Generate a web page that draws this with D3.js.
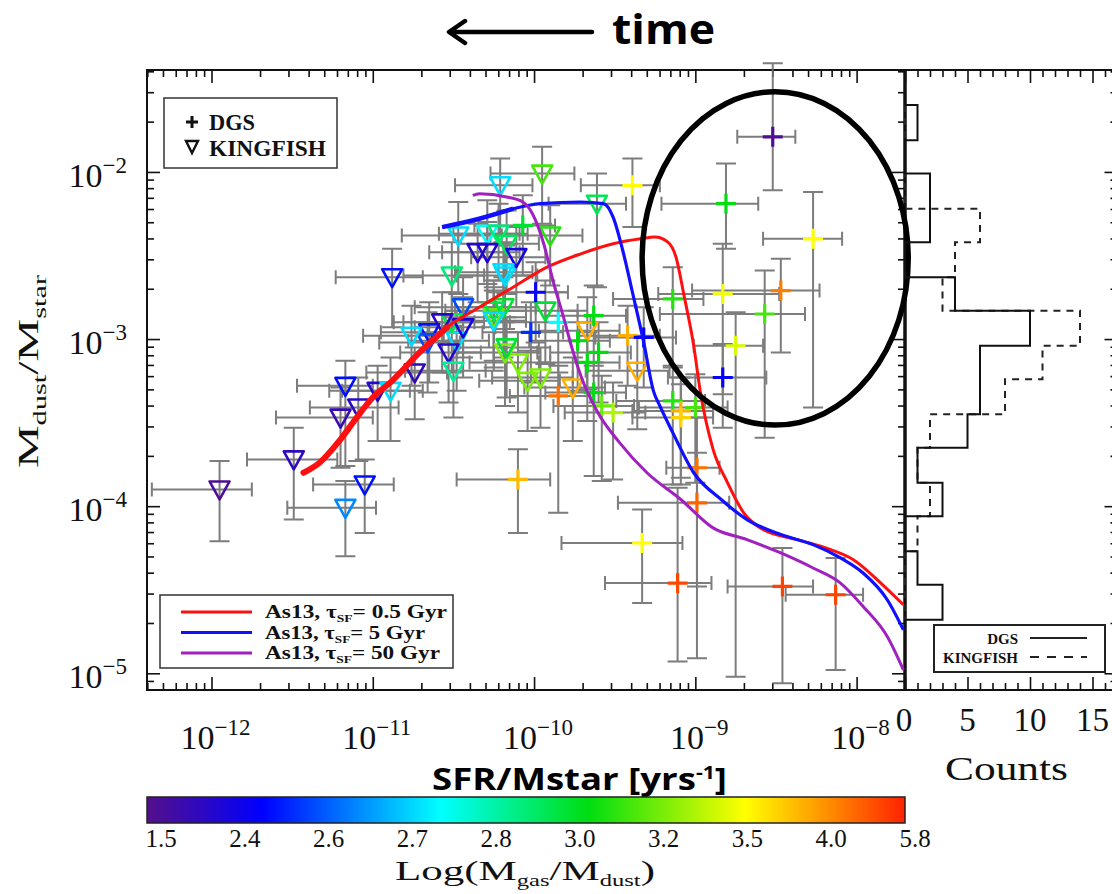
<!DOCTYPE html>
<html>
<head>
<meta charset="utf-8">
<script src="https://cdn.jsdelivr.net/npm/d3@7/dist/d3.min.js"></script>
<style>
body{margin:0;background:#fff}
svg{display:block}
</style>
</head>
<body>
<div id="chart"></div>
<script>
// ---- data (log10 values) ----
// KINGFISH galaxies (triangles)
const kfLogSsfr=[-11.95,-11.49,-11.17,-11.05,-11.17,-11.20,-11.09,-10.97,-10.89,-10.74,-10.88,-10.51,-10.47,-10.29,-10.22,-10.35,-10.29,-10.18,-10.21,-9.95,-9.61,-10.17,-10.11,-10.19,-9.90,-9.93,-9.67,-10.25,-10.18,-10.10,-10.04,-9.96,-9.36,-9.76,-10.65,-10.48,-10.53,-10.50,-10.44,-10.25,-10.19,-10.51,-10.57,-10.44,-10.25,-10.66,-10.17,-10.76];
const kfLogDust=[-3.90,-3.72,-4.01,-3.87,-3.28,-3.47,-3.41,-3.31,-3.31,-3.20,-2.63,-2.62,-2.38,-2.37,-2.37,-2.48,-2.48,-2.62,-2.08,-2.01,-2.19,-2.43,-2.51,-2.60,-2.38,-2.83,-2.95,-2.87,-3.08,-3.14,-3.25,-3.23,-3.19,-3.29,-2.96,-3.01,-3.08,-3.19,-2.81,-2.83,-2.81,-2.90,-2.90,-2.93,-2.89,-3.02,-3.05,-2.98];
const kfXerrLo=[0.42,0.29,0.36,0.32,0.30,0.40,0.30,0.30,0.30,0.30,0.35,0.30,0.35,0.30,0.28,0.30,0.28,0.30,0.28,0.32,0.30,0.30,0.28,0.30,0.30,0.30,0.30,0.30,0.30,0.30,0.30,0.30,0.32,0.30,0.30,0.30,0.30,0.30,0.30,0.30,0.30,0.30,0.30,0.30,0.30,0.30,0.30,0.30];
const kfXerrHi=[0.20,0.27,0.19,0.18,0.17,0.20,0.25,0.20,0.20,0.20,0.19,0.20,0.20,0.20,0.18,0.18,0.20,0.20,0.20,0.20,0.18,0.20,0.18,0.18,0.20,0.20,0.20,0.20,0.20,0.20,0.20,0.20,0.20,0.20,0.20,0.20,0.20,0.20,0.20,0.20,0.20,0.20,0.20,0.20,0.20,0.20,0.20,0.20];
const kfYerrLo=[0.31,0.36,0.29,0.29,0.48,0.30,0.32,0.30,0.30,0.28,0.30,0.30,0.35,0.30,0.28,0.30,0.30,0.32,0.30,0.30,0.50,0.30,0.30,0.30,0.30,0.32,0.35,0.30,0.32,0.30,0.30,0.30,0.35,0.32,0.30,0.30,0.30,0.28,0.30,0.30,0.30,0.30,0.30,0.30,0.30,0.30,0.30,0.30];
const kfYerrHi=[0.17,0.19,0.16,0.15,0.15,0.18,0.18,0.15,0.20,0.15,0.17,0.20,0.20,0.20,0.18,0.17,0.18,0.18,0.16,0.16,0.18,0.20,0.18,0.18,0.18,0.18,0.20,0.18,0.18,0.18,0.18,0.18,0.20,0.18,0.18,0.18,0.18,0.18,0.18,0.18,0.18,0.18,0.18,0.18,0.18,0.18,0.18,0.18];
const kfGasDust=[1.6,2.05,2.65,2.5,2.5,1.9,2.15,2.2,2.72,2.0,2.5,2.9,2.72,2.75,2.9,2.2,2.25,2.72,2.72,3.15,2.95,2.95,2.4,2.72,3.1,3.0,3.9,3.2,3.25,3.25,3.25,3.25,3.9,3.9,2.5,2.72,2.2,2.85,2.6,2.95,3.0,2.95,2.2,2.4,2.72,2.6,3.0,2.72];

// DGS galaxies (crosses)
const dgsLogSsfr=[-8.52,-8.81,-9.39,-8.27,-8.83,-8.47,-9.14,-8.57,-8.75,-8.83,-10.07,-9.99,-9.85,-9.63,-9.67,-9.60,-9.42,-9.32,-10.02,-9.85,-9.63,-9.58,-9.51,-9.14,-9.00,-9.09,-9.09,-10.10,-9.33,-9.11,-8.99,-8.99,-8.46,-8.13,-9.73];
const dgsLogDust=[-1.79,-2.19,-2.08,-2.40,-2.73,-2.71,-2.76,-2.85,-3.04,-3.23,-2.32,-2.72,-2.90,-2.86,-3.14,-3.08,-2.98,-2.99,-2.96,-3.34,-3.32,-3.40,-3.44,-3.37,-3.41,-3.43,-3.47,-3.84,-4.22,-4.46,-3.77,-3.98,-4.48,-4.53,-3.01];
const dgsXerrLo=[0.22,0.40,0.32,0.31,0.40,0.55,0.37,0.65,0.26,0.34,0.30,0.30,0.30,0.30,0.30,0.30,0.30,0.30,0.30,0.30,0.30,0.30,0.30,0.35,0.35,0.30,0.30,0.38,0.50,0.45,0.19,0.49,0.34,0.31,0.30];
const dgsXerrHi=[0.14,0.20,0.17,0.18,0.35,0.24,0.19,0.25,0.17,0.27,0.20,0.20,0.20,0.20,0.20,0.20,0.20,0.20,0.20,0.20,0.20,0.20,0.20,0.20,0.20,0.20,0.20,0.20,0.25,0.21,0.14,0.20,0.19,0.17,0.20];
const dgsYerrLo=[0.32,0.27,0.25,1.01,0.60,0.37,0.40,0.74,1.98,0.30,0.30,0.30,0.30,0.30,0.35,0.30,0.30,0.30,0.30,0.70,0.50,0.45,0.40,0.50,0.45,0.40,0.40,0.32,0.36,0.47,1.14,0.50,0.58,0.45,0.30];
const dgsYerrHi=[0.44,0.24,0.16,0.28,0.30,0.19,0.19,0.26,0.20,0.20,0.18,0.18,0.18,0.18,0.18,0.18,0.18,0.18,0.18,0.18,0.18,0.18,0.18,0.20,0.20,0.20,0.20,0.18,0.20,0.57,0.30,0.30,0.23,0.22,0.18];
const dgsGasDust=[1.6,3.05,3.55,3.55,3.5,4.4,3.1,3.15,3.45,2.45,3.0,2.45,2.75,3.05,3.05,3.05,3.9,2.45,2.55,4.6,3.05,3.2,3.35,3.1,3.15,3.9,3.75,3.85,3.55,5.2,4.6,4.8,5.3,5.3,3.05];

// As13 model tracks
const redLogX=[-11.43,-11.33,-11.20,-11.10,-11.00,-10.88,-10.71,-10.54,-10.34,-10.13,-9.92,-9.71,-9.51,-9.34,-9.25,-9.17,-9.12,-9.07,-9.01,-8.97,-8.89,-8.80,-8.70,-8.58,-8.37,-8.16,-8.02,-7.85,-7.71];
const redLogY=[-3.80,-3.74,-3.60,-3.47,-3.35,-3.25,-3.08,-2.93,-2.81,-2.69,-2.57,-2.49,-2.43,-2.40,-2.39,-2.42,-2.51,-2.74,-3.04,-3.31,-3.66,-3.86,-4.04,-4.14,-4.20,-4.26,-4.32,-4.46,-4.59];
const blueLogX=[-10.57,-10.34,-10.13,-9.96,-9.71,-9.57,-9.51,-9.45,-9.39,-9.32,-9.26,-9.22,-9.14,-9.01,-8.84,-8.68,-8.47,-8.27,-8.10,-7.96,-7.81,-7.71];
const blueLogY=[-2.33,-2.28,-2.22,-2.19,-2.18,-2.19,-2.27,-2.47,-2.72,-3.02,-3.31,-3.40,-3.56,-3.80,-3.96,-4.08,-4.17,-4.23,-4.31,-4.40,-4.56,-4.74];
const purpLogX=[-10.38,-10.34,-10.17,-10.07,-10.01,-9.94,-9.88,-9.82,-9.76,-9.71,-9.61,-9.47,-9.30,-9.09,-8.89,-8.68,-8.47,-8.27,-8.10,-7.96,-7.81,-7.71];
const purpLogY=[-2.14,-2.13,-2.15,-2.18,-2.25,-2.43,-2.66,-2.86,-3.07,-3.22,-3.43,-3.62,-3.80,-3.96,-4.13,-4.20,-4.28,-4.37,-4.46,-4.60,-4.78,-4.98];
const modelNames=["As13, \u03c4","As13, \u03c4","As13, \u03c4"];
const modelTimes=["= 0.5 Gyr","= 5 Gyr","= 50 Gyr"];

// histogram of log(Mdust/Mstar)
const histEdges=[-1.60,-1.81,-2.01,-2.22,-2.42,-2.63,-2.83,-3.04,-3.24,-3.45,-3.65,-3.86,-4.06,-4.27,-4.47,-4.68];
const dgsCounts=[1,0,2,2,0,4,10,6,6,5,1,3,0,1,3];
const kfCounts=[0,0,0,6,4,3,14,11,8,2,1,2,1,0,0];

// colour bar
const cbTicks=[1.5,2.4,2.6,2.7,2.8,3.0,3.2,3.5,4.0,5.8];

// ellipse annotation (data bounds)
const ellLogX=[-9.33,-7.68];
const ellLogY=[-3.515,-1.52];

// ---- layout ----
const W=1112,H=894;
const L=147,R=905,T=70,B=690;
const HR=1117.5;
const serif="'Liberation Serif','DejaVu Serif',serif";
const sans="'Open Sans','Noto Sans',sans-serif";

const svg=d3.select("#chart").append("svg").attr("width",W).attr("height",H);

const x=d3.scaleLog().domain([10**-12.40,10**-7.70]).range([L,R]);
const y=d3.scaleLog().domain([10**-5.10,10**-1.39]).range([B,T]);
const hx=d3.scaleLinear().domain([0,17]).range([R,HR]);

const cbPos=d3.scaleLinear().domain(cbTicks).range(cbTicks.map((d,i)=>i/(cbTicks.length-1)));
const rainbow=d3.scaleLinear()
  .domain([0,0.152,0.387,0.583,0.789,0.9,1])
  .range(["#55108a","#0000ff","#00ffff","#00dd10","#ffff00","#ff8c00","#ff2200"]);
const colorOf=v=>rainbow(cbPos(v));

// ---- axes ----
const isDecade=d=>Math.abs(Math.log10(d)-Math.round(Math.log10(d)))<1e-6;
const xMajor=x.ticks().filter(isDecade);
const xMinor=x.ticks().filter(d=>!isDecade(d));
const yMajor=y.ticks().filter(isDecade);
const yMinor=y.ticks().filter(d=>!isDecade(d));

function addAxis(fn,scale,vals,size,tr){
  svg.append("g")
    .attr("transform",tr)
    .call(fn(scale).tickValues(vals).tickSize(size).tickSizeOuter(0).tickFormat(""))
    .call(g=>g.select(".domain").remove())
    .call(g=>g.selectAll("line").attr("stroke","#111").attr("stroke-width",1.6));
}
addAxis(d3.axisBottom,x,xMajor,-13,`translate(0,${B})`);
addAxis(d3.axisBottom,x,xMinor,-7,`translate(0,${B})`);
addAxis(d3.axisTop,x,xMajor,-13,`translate(0,${T})`);
addAxis(d3.axisTop,x,xMinor,-7,`translate(0,${T})`);
addAxis(d3.axisLeft,y,yMajor,-13,`translate(${L},0)`);
addAxis(d3.axisLeft,y,yMinor,-7,`translate(${L},0)`);
addAxis(d3.axisRight,y,yMajor,-13,`translate(${R},0)`);
addAxis(d3.axisRight,y,yMinor,-7,`translate(${R},0)`);
addAxis(d3.axisRight,y,yMajor,-13,`translate(${HR},0)`);
addAxis(d3.axisRight,y,yMinor,-7,`translate(${HR},0)`);
const hMajor=[0,5,10,15];
const hMinor=d3.range(1,17).filter(d=>d%5!==0);
addAxis(d3.axisBottom,hx,hMajor,-13,`translate(0,${B})`);
addAxis(d3.axisBottom,hx,hMinor,-7,`translate(0,${B})`);
addAxis(d3.axisTop,hx,hMajor,-13,`translate(0,${T})`);
addAxis(d3.axisTop,hx,hMinor,-7,`translate(0,${T})`);

// tick labels with superscripts
const xl=svg.append("g").attr("font-family",serif).attr("font-size",34).attr("fill","#111");
xMajor.forEach(d=>{
  const t=xl.append("text").attr("x",x(d)+4).attr("y",749).attr("text-anchor","middle");
  t.append("tspan").text("10");
  t.append("tspan").attr("dy",-14).attr("font-size",23).text("\u2212"+Math.abs(Math.round(Math.log10(d))));
});
yMajor.forEach(d=>{
  const t=xl.append("text").attr("x",127).attr("y",y(d)+15).attr("text-anchor","end");
  t.append("tspan").text("10");
  t.append("tspan").attr("dy",-14).attr("font-size",23).text("\u2212"+Math.abs(Math.round(Math.log10(d))));
});
hMajor.forEach(d=>{
  xl.append("text").attr("x",hx(d)+(d===0?-1:0)).attr("y",731).attr("text-anchor","middle").attr("font-size",33).text(d);
});

// frame
const frame=svg.append("g").attr("fill","none").attr("stroke","#111");
frame.append("rect").attr("x",L).attr("y",T).attr("width",R-L).attr("height",B-T).attr("stroke-width",2);
frame.append("line").attr("x1",R).attr("x2",W).attr("y1",T).attr("y2",T).attr("stroke-width",2);
frame.append("line").attr("x1",R).attr("x2",W).attr("y1",B).attr("y2",B).attr("stroke-width",2);
frame.append("line").attr("x1",R).attr("x2",R).attr("y1",T).attr("y2",B).attr("stroke-width",3.5);

// ---- data points ----
function makeSet(lx,ly,xlo,xhi,ylo,yhi,c){
  return lx.map((v,i)=>({lx:v,ly:ly[i],xlo:xlo[i],xhi:xhi[i],ylo:ylo[i],yhi:yhi[i],c:c[i]}));
}
const kf=makeSet(kfLogSsfr,kfLogDust,kfXerrLo,kfXerrHi,kfYerrLo,kfYerrHi,kfGasDust);
const dgs=makeSet(dgsLogSsfr,dgsLogDust,dgsXerrLo,dgsXerrHi,dgsYerrLo,dgsYerrHi,dgsGasDust);

const errPath=d=>{
  const cx=x(10**d.lx),cy=y(10**d.ly);
  const x0=x(10**(d.lx-d.xlo)),x1=x(10**(d.lx+d.xhi));
  const y0=y(10**(d.ly+d.yhi)),y1=y(10**(d.ly-d.ylo));
  return `M${x0},${cy}H${x1}M${x0},${cy-7}V${cy+7}M${x1},${cy-7}V${cy+7}`+
         `M${cx},${y0}V${y1}M${cx-10},${y0}H${cx+10}M${cx-10},${y1}H${cx+10}`;
};
svg.append("g").attr("fill","none").attr("stroke","#6f6f6f").attr("stroke-width",2).attr("opacity",0.9)
  .selectAll("path").data(kf.concat(dgs)).enter().append("path").attr("d",errPath);

svg.append("g").selectAll("path").data(kf).enter().append("path")
  .attr("transform",d=>`translate(${x(10**d.lx)},${y(10**d.ly)})`)
  .attr("d","M-10,-8L10,-8L0,10Z")
  .attr("fill","none").attr("stroke",d=>colorOf(d.c)).attr("stroke-width",2.6).attr("stroke-linejoin","round");

svg.append("g").selectAll("path").data(dgs).enter().append("path")
  .attr("transform",d=>`translate(${x(10**d.lx)},${y(10**d.ly)})`)
  .attr("d","M-10,0H10M0,-10V10")
  .attr("fill","none").attr("stroke",d=>colorOf(d.c)).attr("stroke-width",3.2);

// ---- model curves ----
const line=d3.line().x(d=>x(10**d[0])).y(d=>y(10**d[1])).curve(d3.curveMonotoneX);
const models=[
  {xs:redLogX,ys:redLogY,col:"#ff1010",sf:"SF",w:3},
  {xs:blueLogX,ys:blueLogY,col:"#1010ff",sf:"SF",w:3.2},
  {xs:purpLogX,ys:purpLogY,col:"#a020c0",sf:"SF",w:3}
];
models.forEach(m=>{
  const pts=m.xs.map((v,i)=>[v,m.ys[i]]);
  svg.append("path").attr("d",line(pts)).attr("fill","none").attr("stroke",m.col).attr("stroke-width",m.w);
});
// thick early parts of the tracks
svg.append("path")
  .attr("d",line(redLogX.map((v,i)=>[v,redLogY[i]]).filter(d=>d[0]<=-10.54)))
  .attr("fill","none").attr("stroke","#ff1010").attr("stroke-width",6).attr("stroke-linecap","round");
svg.append("path")
  .attr("d",line(blueLogX.map((v,i)=>[v,blueLogY[i]]).filter(d=>d[0]<=-10.13)))
  .attr("fill","none").attr("stroke","#1010ff").attr("stroke-width",4.5);

// ---- ellipse ----
const ex0=x(10**ellLogX[0]),ex1=x(10**ellLogX[1]);
const ey0=y(10**ellLogY[1]),ey1=y(10**ellLogY[0]);
svg.append("ellipse").attr("cx",(ex0+ex1)/2).attr("cy",(ey0+ey1)/2)
  .attr("rx",(ex1-ex0)/2).attr("ry",(ey1-ey0)/2)
  .attr("fill","none").attr("stroke","#000").attr("stroke-width",5.5);

// ---- legends ----
const lg1=svg.append("g").attr("font-family",serif).attr("font-weight","bold").attr("font-size",23).attr("fill","#111");
lg1.append("rect").attr("x",164).attr("y",98).attr("width",173).attr("height",70).attr("fill","#fff").attr("stroke","#333").attr("stroke-width",1.5);
lg1.append("path").attr("d","M186,122H198M192,116V128").attr("stroke","#111").attr("stroke-width",3);
lg1.append("path").attr("d","M186,141L198,141L192,153Z").attr("fill","none").attr("stroke","#111").attr("stroke-width",2.4);
lg1.append("text").attr("x",209).attr("y",130).attr("textLength",46).attr("lengthAdjust","spacingAndGlyphs").text("DGS");
lg1.append("text").attr("x",209).attr("y",156).attr("textLength",117).attr("lengthAdjust","spacingAndGlyphs").text("KINGFISH");

const lg2Len=[182,160,175];
const lg2=svg.append("g").attr("font-family",serif).attr("font-weight","bold").attr("font-size",19).attr("fill","#111");
lg2.append("rect").attr("x",160).attr("y",595).attr("width",293).attr("height",73).attr("fill","#fff").attr("stroke","#333").attr("stroke-width",1.5);
models.forEach((m,i)=>{
  const yy=612+i*20.5;
  lg2.append("line").attr("x1",181).attr("x2",252).attr("y1",yy).attr("y2",yy).attr("stroke",m.col).attr("stroke-width",3);
  const t=lg2.append("text").attr("x",265).attr("y",yy+6).attr("textLength",lg2Len[i]).attr("lengthAdjust","spacingAndGlyphs");
  t.append("tspan").text(modelNames[i]);
  t.append("tspan").attr("dy",4).attr("font-size",11).text(m.sf);
  t.append("tspan").attr("dy",-4).text(modelTimes[i]);
});

// histogram
const histPath=counts=>{
  let p=`M${hx(0)},${y(10**histEdges[0])}`;
  counts.forEach((c,i)=>{
    p+=`L${hx(c)},${y(10**histEdges[i])}L${hx(c)},${y(10**histEdges[i+1])}`;
  });
  return p+`L${hx(0)},${y(10**histEdges[histEdges.length-1])}`;
};
svg.append("path").attr("d",histPath(kfCounts)).attr("fill","none").attr("stroke","#222").attr("stroke-width",2).attr("stroke-dasharray","7,6");
svg.append("path").attr("d",histPath(dgsCounts)).attr("fill","none").attr("stroke","#111").attr("stroke-width",2);

const lg3=svg.append("g").attr("font-family",serif).attr("font-weight","bold").attr("font-size",15).attr("fill","#111");
lg3.append("rect").attr("x",934).attr("y",625).attr("width",171).attr("height",47).attr("fill","#fff").attr("stroke","#222").attr("stroke-width",2);
lg3.append("text").attr("x",1018).attr("y",644).attr("text-anchor","end").text("DGS");
lg3.append("text").attr("x",1018).attr("y",663).attr("text-anchor","end").text("KINGFISH");
lg3.append("line").attr("x1",1030).attr("x2",1087).attr("y1",638).attr("y2",638).attr("stroke","#222").attr("stroke-width",2);
lg3.append("line").attr("x1",1030).attr("x2",1087).attr("y1",657).attr("y2",657).attr("stroke","#222").attr("stroke-width",2).attr("stroke-dasharray","9,8");

// ---- axis titles ----
svg.append("text").attr("x",432).attr("y",790)
  .attr("font-family",sans).attr("font-weight","bold").attr("font-size",31).attr("fill","#000")
  .attr("textLength",295).attr("lengthAdjust","spacingAndGlyphs")
  .call(t=>{
    t.append("tspan").text("SFR/Mstar [yrs");
    t.append("tspan").attr("dy",-11).attr("font-size",18).text("-1");
    t.append("tspan").attr("dy",11).text("]");
  });
svg.append("text").attr("x",945).attr("y",780)
  .attr("font-family",serif).attr("font-size",33).attr("textLength",123).attr("lengthAdjust","spacingAndGlyphs")
  .attr("fill","#111").text("Counts");

const yt=svg.append("text").attr("transform","translate(38,468) rotate(-90)")
  .attr("font-family",serif).attr("font-size",30).attr("fill","#111")
  .attr("textLength",193).attr("lengthAdjust","spacingAndGlyphs");
yt.append("tspan").text("M");
yt.append("tspan").attr("dy",8).attr("font-size",19).text("dust");
yt.append("tspan").attr("dy",-8).text("/M");
yt.append("tspan").attr("dy",8).attr("font-size",19).text("star");

// time arrow
svg.append("path").attr("d","M592,32H450M465,21L449,32L465,43").attr("fill","none").attr("stroke","#000")
  .attr("stroke-width",4.5).attr("stroke-linecap","round").attr("stroke-linejoin","round");
svg.append("text").attr("x",612).attr("y",44).attr("font-family",sans)
  .attr("font-weight","bold").attr("font-size",42).attr("textLength",103).attr("lengthAdjust","spacingAndGlyphs").text("time");

// ---- colour bar ----
const defs=svg.append("defs");
const grad=defs.append("linearGradient").attr("id","rb").attr("x1","0%").attr("x2","100%");
rainbow.domain().forEach(t=>grad.append("stop").attr("offset",`${t*100}%`).attr("stop-color",rainbow(t)));
svg.append("rect").attr("x",L).attr("y",797).attr("width",R-L).attr("height",26).attr("fill","url(#rb)").attr("stroke","#222").attr("stroke-width",1.5);
const cbLab=d3.scaleLinear().domain([0,cbTicks.length-1]).range([161,915]);
svg.append("g").attr("font-family",serif).attr("font-size",25).attr("fill","#111")
  .selectAll("text").data(cbTicks).enter().append("text")
  .attr("x",(d,i)=>cbLab(i)).attr("y",847).attr("text-anchor","middle").text(d=>d.toFixed(1));
const ct=svg.append("text").attr("x",395).attr("y",880)
  .attr("font-family",serif).attr("font-size",28).attr("fill","#111")
  .attr("textLength",260).attr("lengthAdjust","spacingAndGlyphs");
ct.append("tspan").text("Log(M");
ct.append("tspan").attr("dy",6).attr("font-size",16).text("gas");
ct.append("tspan").attr("dy",-6).text("/M");
ct.append("tspan").attr("dy",6).attr("font-size",16).text("dust");
ct.append("tspan").attr("dy",-6).text(")");
</script>
</body>
</html>
